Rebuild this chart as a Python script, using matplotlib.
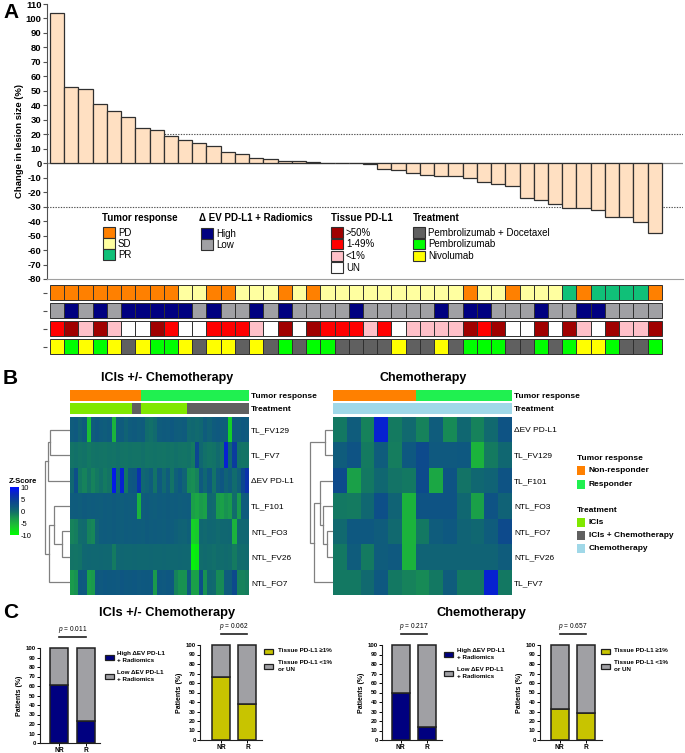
import matplotlib
matplotlib.use("Agg")
import numpy as np
import matplotlib.pyplot as plt
from matplotlib.colors import LinearSegmentedColormap, ListedColormap, Normalize
from matplotlib.patches import Rectangle
from matplotlib.cm import ScalarMappable

plt.rcParams['font.family'] = ['Liberation Sans', 'DejaVu Sans']
plt.rcParams['mathtext.fontset'] = 'custom'
plt.rcParams['mathtext.it'] = 'Liberation Sans:italic'
plt.rcParams['mathtext.rm'] = 'Liberation Sans'
plt.rcParams['axes.unicode_minus'] = False

# ---------------- data : panel A ----------------
lesion_change = [104, 53, 51, 41, 36, 32, 24, 23, 19, 16, 14, 12, 7.6, 6.7, 3.9, 2.8, 1.8, 1.8, 1.0,
                 0, 0, 0, -0.5, -3.7, -4.8, -6.7, -7.8, -8.7, -8.7, -9.9, -12.9, -14.7, -15.9,
                 -23.7, -25.6, -27.9, -30.6, -30.6, -32, -37, -37, -40.8, -48.4]
tumor_response = ['PD'] * 9 + ['SD', 'SD', 'PD', 'PD', 'SD', 'SD', 'SD', 'PD', 'SD', 'PD', 'SD', 'SD',
                               'SD', 'SD', 'SD', 'SD', 'SD', 'SD', 'SD', 'SD', 'PD', 'SD', 'SD', 'PD',
                               'SD', 'SD', 'SD', 'PR', 'PD', 'PR', 'PR', 'PR', 'PR', 'PD']
ev_radiomics = ['Low', 'High', 'Low', 'High', 'Low', 'High', 'High', 'High', 'High', 'High', 'Low',
                'High', 'Low', 'Low', 'High', 'Low', 'High', 'Low', 'Low', 'Low', 'Low', 'High',
                'Low', 'Low', 'Low', 'Low', 'Low', 'High', 'Low', 'High', 'High', 'Low', 'Low', 'Low',
                'High', 'Low', 'Low', 'High', 'High', 'Low', 'Low', 'Low', 'Low']
tissue_pdl1 = ['1-49%', '>50%', '<1%', '>50%', '<1%', 'UN', 'UN', '>50%', '1-49%', 'UN', 'UN',
               '1-49%', '1-49%', '1-49%', '<1%', 'UN', '>50%', 'UN', '>50%', '1-49%', '1-49%',
               '1-49%', '<1%', '1-49%', 'UN', '<1%', '<1%', '<1%', '<1%', '>50%', '1-49%', '>50%',
               'UN', 'UN', '>50%', 'UN', '>50%', '<1%', 'UN', '>50%', '<1%', '<1%', '>50%']
treatment = ['Niv', 'Pem', 'Niv', 'Pem', 'Niv', 'Pem+Doc', 'Niv', 'Pem', 'Pem', 'Niv', 'Pem+Doc',
             'Niv', 'Niv', 'Pem+Doc', 'Niv', 'Pem+Doc', 'Pem', 'Pem+Doc', 'Pem', 'Pem', 'Pem+Doc',
             'Pem+Doc', 'Pem+Doc', 'Pem+Doc', 'Niv', 'Pem+Doc', 'Pem+Doc', 'Niv', 'Pem+Doc', 'Pem',
             'Pem', 'Pem', 'Pem+Doc', 'Pem+Doc', 'Pem', 'Pem+Doc', 'Pem', 'Niv', 'Niv', 'Pem',
             'Pem+Doc', 'Pem+Doc', 'Pem']

resp_labels = ['PD', 'SD', 'PR']
resp_colors = ['#FF8000', '#FFFFA0', '#10C078']
ev_labels = ['High', 'Low']
ev_colors = ['#000080', '#A0A0A4']
tissue_labels = ['>50%', '1-49%', '<1%', 'UN']
tissue_colors = ['#A00000', '#FF0000', '#FFC0C8', '#FFFFFF']
treat_keys = ['Pem+Doc', 'Pem', 'Niv']
treat_labels = ['Pembrolizumab + Docetaxel', 'Pembrolizumab', 'Nivolumab']
treat_colors = ['#606060', '#00FF00', '#FFFF00']

# ---------------- data : panel B ----------------
left_features = ['TL_FV129', 'TL_FV7', 'ΔEV PD-L1', 'TL_F101', 'NTL_FO3', 'NTL_FV26', 'NTL_FO7']
left_z = [
    [1.5, 1.8, 1.0, 1.6, -6, 1.5, 2.0, 1.6, 1.4, 1.7, -5, 1.5, 1.6, 0.8, 1.5, 1.7, 1.4, 1.6, 0.0, -0.3, 0.2,
     1.5, 1.7, 1.6, 2.0, 1.5, 1.4, 1.6, 0.3, 0.5, 0.2, 0.4, 1.5, 1.0, 1.6, 1.8, 1.5, 1.4, -7, 1.6, 1.5, 2.0, 1.7],
    [-0.5, -0.3, -0.6, -0.4, -0.8, -0.5, -0.4, -0.5, -0.6, -0.4, -0.5, -0.3, -0.5, -0.6, -0.4, -0.5, -0.5,
     -0.3, -0.6, -0.5, -0.4, -0.5, -0.6, -0.4, -0.5, -0.3, -0.5, -0.6, -0.4, -1.0, 4.0, 0.5, -0.3, -0.6,
     -0.4, 0.2, -0.5, 8.0, 0.5, 5.0, -0.4, -0.6, -0.5],
    [0.5, 3.0, -0.8, -1.5, -0.5, -1.5, -0.8, -0.3, -1.0, -0.5, 9.0, 0.5, 8.0, -0.8, 2.0, 2.2, 6.0, 0.5, 0.8,
     1.5, -0.5, 1.8, 0.3, 1.5, -0.5, 1.2, 2.0, 0.8, -2.0, -2.2, -1.5, 1.8, 0.5, 2.0, -0.5, 1.5, 2.2, 0.8,
     1.5, 0.0, 1.2, 4.0, 6.0],
    [1.5, 1.6, 1.4, 1.7, 1.5, 1.6, 1.5, 1.4, 1.6, 1.5, 1.7, 1.5, 1.4, 1.6, 1.5, 1.6, -5, 1.5, 1.7, 1.5, 1.4,
     1.6, 1.5, 1.7, 1.5, 1.6, 1.4, 1.5, 1.6, -3.5, -4.0, -3.0, -3.5, 0.5, 0.3, -3.0, -3.5, -2.5, -3.0, 0.0,
     -3.0, 1.5, 1.6],
    [-1.5, -1.2, 0.0, 0.2, -1.5, -1.8, 0.8, 1.5, 1.6, 1.5, 1.7, 1.5, 1.4, 1.6, 1.5, 1.6, 1.5, 1.4, 1.7, 1.5,
     1.6, 1.5, 1.4, 1.6, 1.5, 1.2, 1.0, 0.8, 1.2, -7.0, -6.5, 0.5, 0.3, 0.6, 0.5, 0.2, 0.5, 0.4, 0.6, -5.0,
     0.5, 0.4, 0.6],
    [-0.5, -0.6, -0.4, 0.5, 0.6, 0.4, 0.5, 0.6, 0.5, 0.4, -1.0, 0.5, 0.6, 0.4, 0.5, 0.6, 0.5, 0.4, 0.5, 0.6,
     0.5, 0.4, 0.6, 0.5, 0.4, 0.5, 0.6, 0.5, 0.4, -9.0, -8.5, 0.0, 0.2, 0.0, -0.2, 0.1, 0.0, 0.2, 0.0, -1.0,
     0.1, 0.0, 0.2],
    [-3.0, -2.5, 2.0, 1.8, -3.5, -3.0, 2.0, 1.8, 2.1, 1.9, 2.0, 1.8, 2.2, 2.0, 1.9, 2.1, 1.8, 2.0, 1.9, 2.0,
     -3.0, 2.0, 1.8, 2.1, 1.9, -1.5, -2.5, -2.5, 1.8, -3.5, -3.5, 3.0, -2.5, 0.5, 0.3, -2.0, -2.0, 1.5, 1.5,
     3.5, -1.5, -1.5, -1.2],
]
right_features = ['ΔEV PD-L1', 'TL_FV129', 'TL_F101', 'NTL_FO3', 'NTL_FO7', 'NTL_FV26', 'TL_FV7']
right_z = [
    [-0.8, 1.5, -1.5, 8.0, -1.0, 0.3, -1.5, 1.5, -2.0, 0.5, -1.5, 0.3, 2.5],
    [1.5, 2.5, -1.0, 1.5, -1.2, 2.0, 3.5, 1.8, 1.8, 2.0, -5.0, -1.0, 0.5],
    [3.5, -3.5, -0.8, 0.5, -0.5, -0.8, 3.5, -4.0, 2.5, -0.5, 0.5, 0.8, 2.5],
    [-0.8, -1.0, 0.5, 3.0, 0.8, -5.0, 2.5, 2.5, 2.5, 0.5, -3.5, 2.5, 1.0],
    [0.3, 2.0, 2.0, 1.5, 0.3, -5.0, -0.8, 1.5, 2.0, 0.8, 0.5, 1.5, 3.5],
    [-0.8, 1.5, -1.0, 1.5, 1.8, -5.0, 0.8, 0.8, 0.8, 0.8, 0.8, 0.8, 1.5],
    [-0.8, -0.8, 0.3, 2.0, -0.8, -1.5, -2.0, -0.8, 1.5, -0.8, -0.8, 8.0, -0.8],
]
chemo_response = ['NR', 'NR', 'NR', 'NR', 'NR', 'NR', 'R', 'R', 'R', 'R', 'R', 'R', 'R']
chemo_treatment = ['Chemotherapy'] * 13
# dendrogram merges: (a, b, height); leaves 0..6 in row order, new clusters numbered from 7
left_merges = [(0, 1, 20), (4, 5, 8), (3, 8, 16), (9, 6, 21), (7, 2, 22), (11, 10, 25)]
right_merges = [(0, 1, 8), (4, 5, 6), (3, 8, 10), (2, 9, 13), (10, 6, 19), (7, 11, 23)]

hm_resp_labels = ['NR', 'R']
hm_resp_names = ['Non-responder', 'Responder']
hm_resp_colors = ['#FF8000', '#20F050']
hm_treat_labels = ['ICIs', 'ICIs + Chemotherapy', 'Chemotherapy']
hm_treat_colors = ['#80E800', '#606060', '#A0D8E8']

# ---------------- data : panel C ----------------
c_groups = ['NR', 'R']
c_lower = [[61, 23], [66, 38], [50, 14], [33, 28]]
c_pvalues = ['0.011', '0.062', '0.217', '0.657']
c_lower_colors = ['#000080', '#C8C400', '#000080', '#C8C400']
c_legend_labels = [['High ΔEV PD-L1\n+ Radiomics', 'Low ΔEV PD-L1\n+ Radiomics'],
                   ['Tissue PD-L1 ≥1%', 'Tissue PD-L1 <1%\nor UN'],
                   ['High ΔEV PD-L1\n+ Radiomics', 'Low ΔEV PD-L1\n+ Radiomics'],
                   ['Tissue PD-L1 ≥1%', 'Tissue PD-L1 <1%\nor UN']]
c_upper_color = '#A0A0A4'

# ---------------- figure ----------------
W, H = 685, 753
fig = plt.figure(figsize=(W / 100, H / 100), dpi=100)


def px(x0, y0, x1, y1):
    return [x0 / W, 1 - y1 / H, (x1 - x0) / W, (y1 - y0) / H]


ov = fig.add_axes([0, 0, 1, 1], zorder=20)
ov.set_xlim(0, W)
ov.set_ylim(H, 0)
ov.axis('off')
ov.patch.set_alpha(0)

# ----- Panel A waterfall -----
n = len(lesion_change)
x = np.arange(n)
axA = fig.add_axes(px(47, 4, 683, 279))
axA.bar(x, lesion_change, width=1.0, color='#FFE0C2', edgecolor='#303030', linewidth=0.9, zorder=3)
axA.set_xlim(-0.71, 43.99)
axA.set_ylim(-80, 110)
axA.set_yticks(np.arange(-80, 111, 10))
axA.tick_params(axis='y', labelsize=6.8, length=3, width=0.8, pad=1, color='#505050')
for lab in axA.get_yticklabels():
    lab.set_fontweight('bold')
axA.set_xticks([])
for s in ['top', 'right']:
    axA.spines[s].set_visible(False)
axA.spines['bottom'].set_color('#a0a0a0')
axA.spines['left'].set_color('#505050')
axA.axhline(0, color='#909090', lw=0.9, zorder=2)
axA.axhline(20, color='#505050', lw=0.8, ls=(0, (1.2, 1.2)), zorder=1)
axA.axhline(-30, color='#505050', lw=0.8, ls=(0, (1.2, 1.2)), zorder=1)
axA.set_ylabel('Change in lesion size (%)', fontsize=6.8, fontweight='bold', labelpad=1)

# annotation rows
axAn = fig.add_axes(px(47, 283.5, 683, 355.5))
rows = [
    [resp_colors[resp_labels.index(v)] for v in tumor_response],
    [ev_colors[ev_labels.index(v)] for v in ev_radiomics],
    [tissue_colors[tissue_labels.index(v)] for v in tissue_pdl1],
    [treat_colors[treat_keys.index(v)] for v in treatment],
]
for r, cols in enumerate(rows):
    axAn.bar(x, [0.83] * n, bottom=r - 0.415, width=1.0, color=cols, edgecolor='#303030', linewidth=0.7)
axAn.set_xlim(-0.71, 43.99)
axAn.set_ylim(3.5, -0.5)
axAn.set_xticks([])
axAn.set_yticks(range(4))
axAn.set_yticklabels([])
axAn.tick_params(axis='y', length=3, width=0.8, color='#505050')
for s in axAn.spines.values():
    s.set_visible(False)


def legend_block(title, x0, tx, ty, labels, colors, tops, pw=12, ph=10.5, fs=7):
    ov.text(tx, ty, title, fontsize=fs, fontweight='bold', va='center', ha='left')
    for lab, col, top in zip(labels, colors, tops):
        ov.add_patch(Rectangle((x0, top), pw, ph, facecolor=col, edgecolor='#303030', lw=0.8))
        ov.text(x0 + pw + 3, top + ph / 2 + 0.3, lab, fontsize=fs, va='center', ha='left')


legend_block('Tumor response', 103, 102, 218, resp_labels, resp_colors, [227, 238, 249])
legend_block('Δ EV PD-L1 + Radiomics', 201, 199, 218, ev_labels, ev_colors, [228, 239])
legend_block('Tissue PD-L1', 331, 331, 218, tissue_labels, tissue_colors, [227, 238.8, 250.6, 262.4])
legend_block('Treatment', 413, 413, 218, treat_labels, treat_colors, [227, 238.8, 250.6])

# ----- Panel B -----
cmap = LinearSegmentedColormap.from_list('zs', [
    (0.0, '#00FF00'), (0.2, '#1CC034'), (0.35, '#1A9A4C'), (0.45, '#147A60'), (0.5, '#116C6C'),
    (0.575, '#0F5C7C'), (0.7, '#0C4690'), (0.85, '#0A2AB8'), (1.0, '#0010FF')])
norm = Normalize(-10, 10)

# sort ICI patients by response then treatment for left heatmap annotations
left_resp = ['NR' if r == 'PD' else 'R' for r in tumor_response]
left_treat = ['ICIs + Chemotherapy' if t == 'Pem+Doc' else 'ICIs' for t in treatment]
order = sorted(range(n), key=lambda i: (hm_resp_labels.index(left_resp[i]), hm_treat_labels.index(left_treat[i])))
left_resp_sorted = [left_resp[i] for i in order]
left_treat_sorted = [left_treat[i] for i in order]


def draw_dendro(ax, merges, nleaf):
    pos = {i: (i + 0.5, 0.0) for i in range(nleaf)}
    for k, (a, b, h) in enumerate(merges):
        ya, ha = pos[a]
        yb, hb = pos[b]
        ax.plot([ha, h, h, hb], [ya, ya, yb, yb], color='#808080', lw=0.9, solid_joinstyle='miter')
        pos[nleaf + k] = ((ya + yb) / 2, h)
    ax.set_xlim(26, 0)
    ax.set_ylim(nleaf, 0)
    ax.axis('off')


def draw_heatmap(x0, x1, z, feats, resp, treat, merges, dx0):
    z = np.array(z)
    m, ncol = z.shape
    axr = fig.add_axes(px(x0, 390, x1, 401))
    axr.pcolormesh(np.arange(ncol + 1), [0, 1], [[hm_resp_labels.index(v) for v in resp]],
                   cmap=ListedColormap(hm_resp_colors), vmin=-0.5, vmax=1.5)
    axt = fig.add_axes(px(x0, 403, x1, 414))
    axt.pcolormesh(np.arange(ncol + 1), [0, 1], [[hm_treat_labels.index(v) for v in treat]],
                   cmap=ListedColormap(hm_treat_colors), vmin=-0.5, vmax=2.5)
    for a, lab in ((axr, 'Tumor response'), (axt, 'Treatment')):
        a.set_xticks([])
        a.yaxis.tick_right()
        a.set_yticks([0.5])
        a.set_yticklabels([lab], fontsize=6, fontweight='bold')
        a.tick_params(length=0, pad=1.5)
        for s in a.spines.values():
            s.set_visible(False)
    axh = fig.add_axes(px(x0, 417, x1, 595))
    axh.pcolormesh(np.arange(ncol + 1), np.arange(m + 1), z, cmap=cmap, norm=norm,
                   edgecolors='none', antialiased=False)
    axh.set_ylim(m, 0)
    axh.set_xticks([])
    axh.yaxis.tick_right()
    axh.set_yticks(np.arange(m) + 0.5)
    axh.set_yticklabels(feats, fontsize=6)
    axh.tick_params(length=0, pad=1.5)
    for s in axh.spines.values():
        s.set_visible(False)
    axd = fig.add_axes(px(dx0, 417, x0, 595))
    draw_dendro(axd, merges, m)


draw_heatmap(70, 249, left_z, left_features, left_resp_sorted, left_treat_sorted, left_merges, 44)
draw_heatmap(333, 512, right_z, right_features, chemo_response, chemo_treatment, right_merges, 307)

ov.text(167, 378, 'ICIs +/- Chemotherapy', fontsize=9, fontweight='bold', ha='center', va='center')
ov.text(423, 378, 'Chemotherapy', fontsize=9, fontweight='bold', ha='center', va='center')

# colorbar
cax = fig.add_axes(px(10, 487, 19, 535))
cb = fig.colorbar(ScalarMappable(norm=norm, cmap=cmap), cax=cax, ticks=[10, 5, 0, -5, -10])
cb.outline.set_visible(False)
cax.tick_params(labelsize=5.5, length=0, pad=1)
ov.text(9, 481, 'Z-Score', fontsize=5.5, fontweight='bold', ha='left', va='center')

# right legend of panel B
ov.text(577, 458, 'Tumor response', fontsize=6, fontweight='bold', va='center')
for k, (lab, col) in enumerate(zip(hm_resp_names, hm_resp_colors)):
    top = 466 + k * 14
    ov.add_patch(Rectangle((577, top), 8.5, 8.5, facecolor=col, edgecolor='none'))
    ov.text(589, top + 4.5, lab, fontsize=6, fontweight='bold', va='center')
ov.text(577, 511, 'Treatment', fontsize=6, fontweight='bold', va='center')
for k, (lab, col) in enumerate(zip(hm_treat_labels, hm_treat_colors)):
    top = 518 + k * 13
    ov.add_patch(Rectangle((577, top), 8.5, 8.5, facecolor=col, edgecolor='none'))
    ov.text(589, top + 4.5, lab, fontsize=6, fontweight='bold', va='center')

# ----- Panel C -----
c_layout = [  # y-axis x, NR bar centre, bar spacing, axis right end, y0 px, y100 px
    (40, 59, 27, 100, 743, 648),
    (200, 221, 26.5, 262, 740, 645),
    (382, 400.5, 26.5, 442, 740, 645),
    (540, 559.5, 26.5, 602, 740, 645)]
c_leg_pos = [  # patch x, text x, y centres
    (105, 117, [657, 676]),
    (264, 278, [651, 666]),
    (444, 457, [654, 673]),
    (601, 614, [651, 666])]

for k in range(4):
    yx, c0, sp, xr, y0, y100 = c_layout[k]
    ax = fig.add_axes(px(yx, y100, xr, y0))
    lower = np.array(c_lower[k])
    upper = 100 - lower
    bw = 18 / sp
    ax.bar([0, 1], lower, width=bw, color=c_lower_colors[k], edgecolor='#202020', linewidth=1.1,
           clip_on=False, zorder=3)
    ax.bar([0, 1], upper, bottom=lower, width=bw, color=c_upper_color, edgecolor='#202020',
           linewidth=1.1, clip_on=False, zorder=3)
    ax.set_xlim((yx - c0) / sp, (xr - c0) / sp)
    ax.set_ylim(0, 100)
    ax.set_yticks(np.arange(0, 101, 10))
    ax.set_xticks([0, 1])
    ax.set_xticklabels(c_groups)
    ax.tick_params(axis='y', labelsize=4.3, length=2, width=0.7, pad=1)
    ax.tick_params(axis='x', labelsize=4.8, length=2, width=0.7, pad=1)
    for lab in ax.get_yticklabels() + ax.get_xticklabels():
        lab.set_fontweight('bold')
    for s in ['top', 'right']:
        ax.spines[s].set_visible(False)
    for s in ['left', 'bottom']:
        ax.spines[s].set_linewidth(0.8)
        ax.spines[s].set_color('#202020')
    ax.set_ylabel('Patients (%)', fontsize=5, fontweight='bold', labelpad=2)
    ax.plot([0, 1], [111.5, 111.5], color='#202020', lw=1.2, clip_on=False)
    ax.text(0.5, 119, '$p$ = ' + c_pvalues[k], fontsize=4.8, ha='center', va='center', clip_on=False)
    pxl, txl, ys = c_leg_pos[k]
    for lab, col, yc in zip(c_legend_labels[k], [c_lower_colors[k], c_upper_color], ys):
        ov.add_patch(Rectangle((pxl, yc - 2.5), 9, 5, facecolor=col, edgecolor='#202020', lw=0.9))
        ov.text(txl, yc, lab, fontsize=4.5, fontweight='bold', va='center', ha='left', linespacing=1.3)

ov.text(167, 613, 'ICIs +/- Chemotherapy', fontsize=9.3, fontweight='bold', ha='center', va='center')
ov.text(481, 613, 'Chemotherapy', fontsize=9.3, fontweight='bold', ha='center', va='center')

# panel letters
ov.text(3, 12, 'A', fontsize=15, fontweight='bold', va='center', ha='left')
ov.text(3, 378, 'B', fontsize=15, fontweight='bold', va='center', ha='left')
ov.text(3, 613, 'C', fontsize=15, fontweight='bold', va='center', ha='left')

fig.savefig('out.png', dpi=100)
